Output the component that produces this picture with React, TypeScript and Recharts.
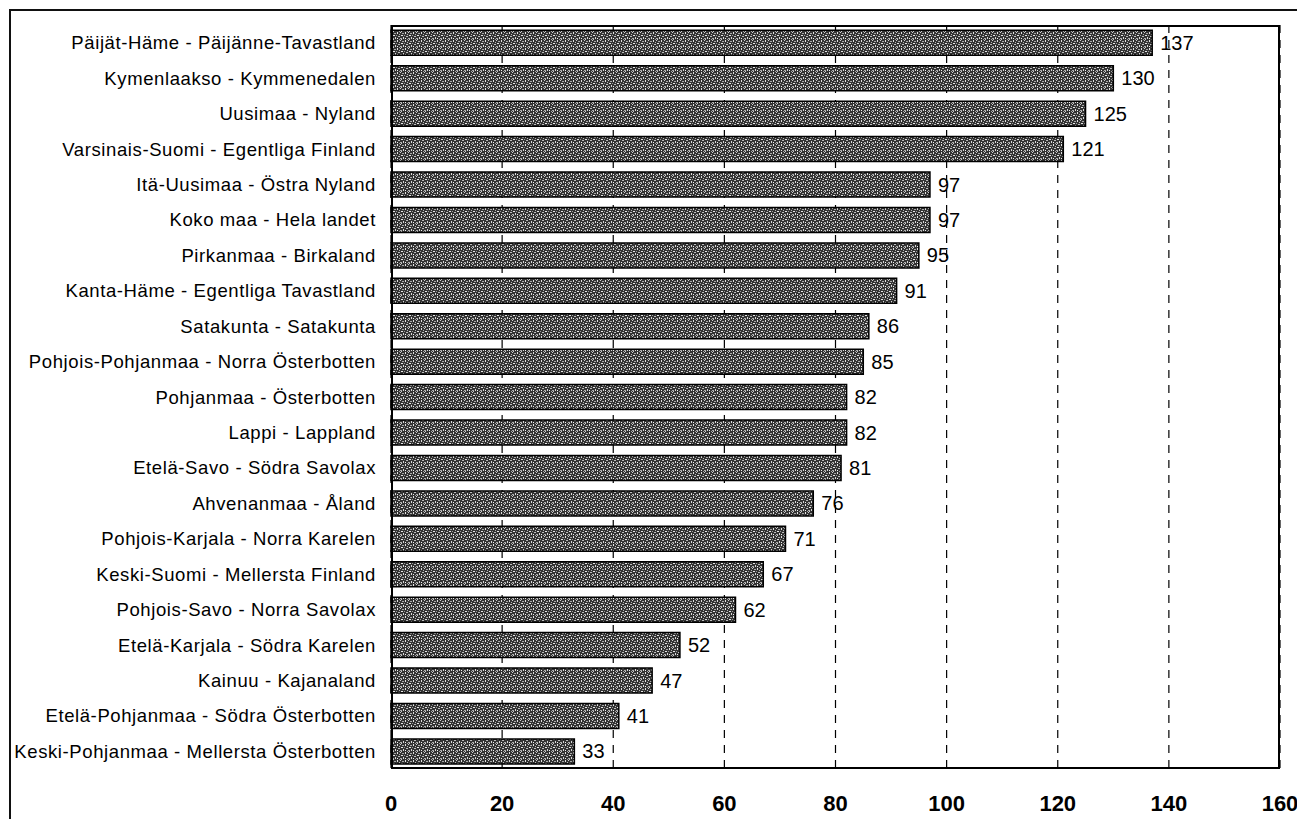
import React from "react";
import { BarChart, Bar, XAxis, YAxis, CartesianGrid, LabelList } from "recharts";

const regions = [
  "Päijät-Häme - Päijänne-Tavastland",
  "Kymenlaakso - Kymmenedalen",
  "Uusimaa - Nyland",
  "Varsinais-Suomi - Egentliga Finland",
  "Itä-Uusimaa - Östra Nyland",
  "Koko maa - Hela landet",
  "Pirkanmaa - Birkaland",
  "Kanta-Häme - Egentliga Tavastland",
  "Satakunta - Satakunta",
  "Pohjois-Pohjanmaa - Norra Österbotten",
  "Pohjanmaa - Österbotten",
  "Lappi - Lappland",
  "Etelä-Savo - Södra Savolax",
  "Ahvenanmaa - Åland",
  "Pohjois-Karjala - Norra Karelen",
  "Keski-Suomi - Mellersta Finland",
  "Pohjois-Savo - Norra Savolax",
  "Etelä-Karjala - Södra Karelen",
  "Kainuu - Kajanaland",
  "Etelä-Pohjanmaa - Södra Österbotten",
  "Keski-Pohjanmaa - Mellersta Österbotten",
];

const values = [137, 130, 125, 121, 97, 97, 95, 91, 86, 85, 82, 82, 81, 76, 71, 67, 62, 52, 47, 41, 33];

const xTicks = [0, 20, 40, 60, 80, 100, 120, 140, 160];

const data = regions.map((name, i) => ({ name, value: values[i] }));

const font = "'Liberation Sans', Arial, sans-serif";

export default function App() {
  return (
    <div style={{ position: "relative", width: 1297, height: 811, overflow: "hidden" }}>
      <div
        style={{
          position: "absolute",
          left: 1,
          top: 1,
          width: 1310,
          height: 830,
          borderLeft: "2px solid #111",
          borderTop: "2px solid #111",
        }}
      />
      <div style={{ position: "absolute", left: 0, top: 0 }}>
        <BarChart
          width={1297}
          height={811}
          data={data}
          layout="vertical"
          margin={{ top: 17, right: 25, bottom: 0, left: 0 }}
          barCategoryGap="15%"
        >
          <defs>
            <pattern id="speckle" width="8" height="8" patternUnits="userSpaceOnUse">
              <rect width="8" height="8" fill="#333" />
              <rect x="0" y="0" width="1" height="1" fill="#d0d0d0" />
              <rect x="2" y="1" width="2" height="1" fill="#a8a8a8" />
              <rect x="5" y="0" width="1" height="2" fill="#e0e0e0" />
              <rect x="1" y="3" width="2" height="1" fill="#e6e6e6" />
              <rect x="4" y="3" width="1" height="1" fill="#9a9a9a" />
              <rect x="6" y="4" width="2" height="1" fill="#bdbdbd" />
              <rect x="3" y="5" width="1" height="2" fill="#d8d8d8" />
              <rect x="0" y="6" width="2" height="1" fill="#acacac" />
              <rect x="5" y="6" width="1" height="1" fill="#f0f0f0" />
              <rect x="7" y="7" width="1" height="1" fill="#a4a4a4" />
              <rect x="1" y="7" width="1" height="1" fill="#c8c8c8" />
              <rect x="7" y="2" width="1" height="1" fill="#b8b8b8" />
            </pattern>
          </defs>
          <CartesianGrid horizontal={false} stroke="#000" strokeDasharray="8 7" strokeWidth={1.2} />
          <XAxis
            type="number"
            domain={[0, 160]}
            ticks={xTicks}
            axisLine={false}
            tickLine={false}
            tickSize={0}
            tickMargin={26}
            height={50}
            interval={0}
            tick={{ fill: "#000", fontSize: 22, fontWeight: "bold", fontFamily: font }}
          />
          <YAxis
            type="category"
            dataKey="name"
            width={383}
            axisLine={false}
            tickLine={false}
            tickSize={0}
            tickMargin={15}
            interval={0}
            tick={{ fill: "#000", fontSize: 18.5, letterSpacing: 0.6, fontFamily: font }}
          />
          <Bar dataKey="value" fill="url(#speckle)" stroke="#000" strokeWidth={1.5} isAnimationActive={false}>
            <LabelList
              dataKey="value"
              position="right"
              offset={8}
              style={{ fill: "#000", fontSize: 20, fontFamily: font }}
            />
          </Bar>
        </BarChart>
      </div>
      <div
        style={{
          position: "absolute",
          left: 383,
          top: 17,
          width: 889,
          height: 744,
          border: "2px solid #000",
          boxSizing: "border-box",
          pointerEvents: "none",
        }}
      />
    </div>
  );
}
